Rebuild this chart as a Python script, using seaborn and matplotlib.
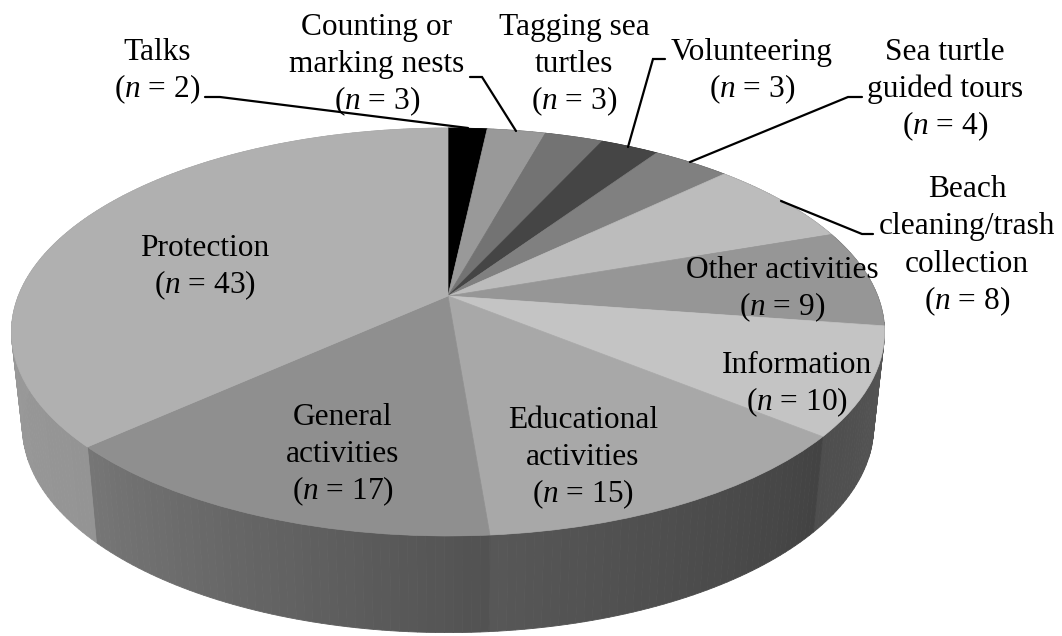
import numpy as np
import matplotlib
matplotlib.use("Agg")
import matplotlib.pyplot as plt
from matplotlib.transforms import Transform
import seaborn as sns

# ---- data ----
categories = ["Talks", "Counting or\nmarking nests", "Tagging sea\nturtles", "Volunteering",
              "Sea turtle\nguided tours", "Beach\ncleaning/trash\ncollection", "Other activities",
              "Information", "Educational\nactivities", "General\nactivities", "Protection"]
counts = [2, 3, 3, 3, 4, 8, 9, 10, 15, 17, 43]
top_greys = ["#000000", "#999999", "#737373", "#454545", "#808080", "#bcbcbc",
             "#969696", "#c4c4c4", "#a8a8a8", "#8f8f8f", "#b0b0b0"]
wall_start = [0x30, 0x60, 0x50, 0x30, 0x50, 0x70, 0x58, 0x56, 0x43, 0x52, 0x94]
wall_end = [0x30, 0x60, 0x50, 0x30, 0x50, 0x70, 0x56, 0x4e, 0x57, 0x76, 0xa6]
label_x = [157, 377, 574, 752, 945, 967, 782, 797, 583, 343, 205]
label_first_baseline = [60, 35, 35, 60, 60, 197, 278, 373, 428, 425, 256]
leaders = [[(205, 97), (220, 97), (468, 128)],
           [(470, 77), (482, 77), (516, 131)],
           [(665, 59), (653, 59), (628, 147)],
           [(862, 97), (848, 97), (690, 162)],
           [(873, 234), (862, 234), (781, 201)]]

# ---- projection of the pie disc ----
CX, CY, A, B, K = 448.0, 296.0, 429.7, 197.6, 0.1765
BOT_CY, BOT_SX, BOT_SY = 390.0, 0.975, 1.011
LINE_STEP = 37.3


class Perspective(Transform):
    input_dims = 2
    output_dims = 2

    def transform_non_affine(self, xy):
        xy = np.asarray(xy, dtype=float)
        w = 1 + K * xy[:, 1]
        return np.column_stack([CX + A * xy[:, 0] / w, CY - B * xy[:, 1] / w])


sns.set_theme(style="white")
plt.rcParams["font.family"] = ["Liberation Serif", "DejaVu Serif"]
plt.rcParams["mathtext.fontset"] = "custom"
plt.rcParams["mathtext.it"] = "Liberation Serif:italic"
plt.rcParams["mathtext.rm"] = "Liberation Serif"

fig = plt.figure(figsize=(10.62, 6.36), dpi=100)
ax = fig.add_axes([0, 0, 1, 1])
wedges, _ = ax.pie(counts, colors=top_greys, startangle=90, counterclock=False,
                   wedgeprops={"linewidth": 0.5})
ax.set_aspect("auto")
ax.set_xlim(0, 1062)
ax.set_ylim(636, 0)
ax.set_frame_on(False)
ax.set_xticks([])
ax.set_yticks([])

persp = Perspective()
for w, c in zip(wedges, top_greys):
    w.set_transform(persp + ax.transData)
    w.set_edgecolor(c)
    w.set_zorder(3)

# side wall, shaded strip by strip
for w, g0, g1 in zip(wedges, wall_start, wall_end):
    th = np.radians(np.linspace(w.theta2, w.theta1, max(int((w.theta2 - w.theta1) / 1.0), 2) + 1))
    top = persp.transform_non_affine(np.column_stack([np.cos(th), np.sin(th)]))
    bot = np.column_stack([CX + BOT_SX * (top[:, 0] - CX), BOT_CY + BOT_SY * (top[:, 1] - CY)])
    for i in range(len(th) - 1):
        g = (g0 + (g1 - g0) * i / (len(th) - 2 if len(th) > 2 else 1)) / 255
        ax.fill([top[i, 0], top[i + 1, 0], bot[i + 1, 0], bot[i, 0]],
                [top[i, 1], top[i + 1, 1], bot[i + 1, 1], bot[i, 1]],
                facecolor=(g, g, g), edgecolor=(g, g, g), linewidth=0.6, zorder=2)

for pts in leaders:
    xs, ys = zip(*pts)
    ax.plot(xs, ys, color="black", lw=1.6, solid_joinstyle="miter", zorder=4)

for name, n, x, y0 in zip(categories, counts, label_x, label_first_baseline):
    lines = name.split("\n") + [f"($\\mathit{{n}}$ = {n})"]
    for i, line in enumerate(lines):
        ax.text(x, y0 + i * LINE_STEP, line, ha="center", va="baseline",
                fontsize=22.6, color="black", zorder=5)

fig.savefig("out.png", dpi=100, facecolor="white")
